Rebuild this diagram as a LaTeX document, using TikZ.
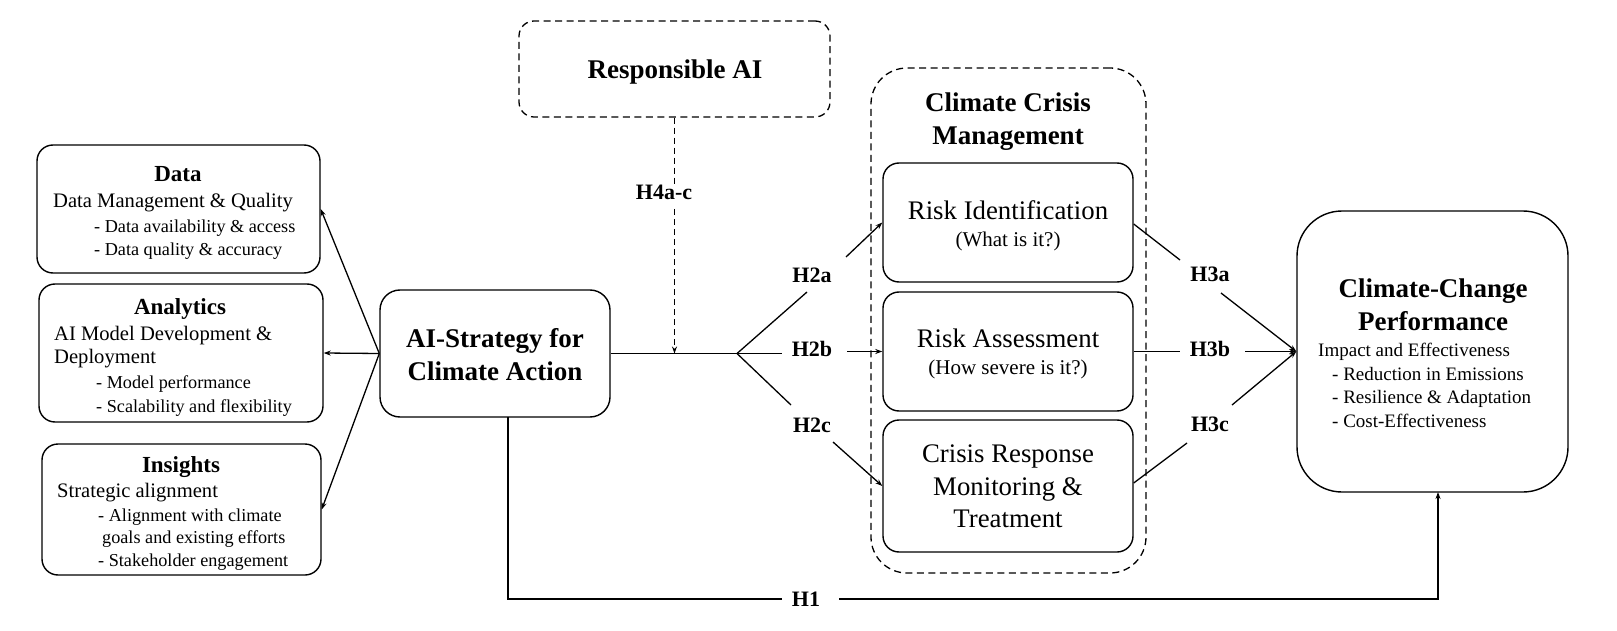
\documentclass[tikz,border=0pt]{standalone}
\usepackage{fontspec}
\setmainfont{Liberation Serif}[Ligatures=TeX]
\newfontfamily\tnr{Liberation Serif}
\usetikzlibrary{arrows.meta}
\begin{document}
\begin{tikzpicture}[x=1pt,y=-1pt,
  box/.style={draw, line width=1.4pt, rounded corners=16pt, inner sep=0pt, fill=white},
  dashbox/.style={draw, line width=1.3pt, inner sep=0pt, dash pattern=on 7pt off 4.5pt},
  ln/.style={line width=1.3pt},
  arr/.style={line width=1.3pt, -{Stealth[length=7pt,width=5pt]}},
  darr/.style={line width=1.3pt, dash pattern=on 6pt off 4pt, -{Stealth[length=7pt,width=5pt]}},
  ttl/.style={font=\tnr\fontsize{23}{27}\selectfont\bfseries, anchor=base, inner sep=0pt},
  big/.style={font=\tnr\fontsize{27}{32}\selectfont\bfseries, anchor=base, inner sep=0pt},
  body/.style={font=\tnr\fontsize{20.6}{24}\selectfont, anchor=base west, inner sep=0pt},
  item/.style={font=\tnr\fontsize{18.2}{22}\selectfont, anchor=base west, inner sep=0pt},
  mid/.style={font=\tnr\fontsize{26.8}{30}\selectfont, anchor=base, inner sep=0pt},
  sub/.style={font=\tnr\fontsize{21}{25}\selectfont, anchor=base, inner sep=0pt},
  pbody/.style={font=\tnr\fontsize{19}{23}\selectfont, anchor=base west, inner sep=0pt},
  hlab/.style={font=\tnr\fontsize{22}{26}\selectfont\bfseries, anchor=base, inner sep=0pt}
]
\useasboundingbox (0,0) rectangle (1617,631);

% containers and boxes
\node[dashbox, rounded corners=36pt, minimum width=275pt, minimum height=505pt] (ccm) at (1008.5,320.5) {};
\node[dashbox, rounded corners=15pt, minimum width=311pt, minimum height=96pt] (resp) at (674.5,69) {};
\node[box, minimum width=283pt, minimum height=128pt] (data) at (178.5,209) {};
\node[box, minimum width=284pt, minimum height=138pt] (anal) at (181,353) {};
\node[box, minimum width=279pt, minimum height=131pt] (ins) at (181.5,509.5) {};
\node[box, rounded corners=20pt, minimum width=230pt, minimum height=127pt] (ai) at (495,353.5) {};
\node[box, minimum width=250pt, minimum height=119pt] (rid) at (1008,222.5) {};
\node[box, minimum width=250pt, minimum height=119pt] (ras) at (1008,351.5) {};
\node[box, minimum width=250pt, minimum height=132pt] (crr) at (1008,486) {};
\node[box, rounded corners=45pt, minimum width=271pt, minimum height=281pt] (perf) at (1432.5,351.5) {};

% left box texts
\node[ttl] (tdata) at (178,182) {Data};
\node[body] (tdata1) at (53,208) {Data Management \& Quality};
\node[item] (tdata2) at (94,233) {- Data availability \& access};
\node[item] (tdata3) at (94,255) {- Data quality \& accuracy};

\node[ttl] (tanal) at (180,314) {Analytics};
\node[body] (tanal1) at (54,340) {AI Model Development \&};
\node[body] (tanal2) at (54,363) {Deployment};
\node[item] (tanal3) at (96,388) {- Model performance};
\node[item] (tanal4) at (96,412) {- Scalability and flexibility};

\node[ttl] (tins) at (181,472) {Insights};
\node[body] (tins1) at (57,497) {Strategic alignment};
\node[item] (tins2) at (98,521) {- Alignment with climate};
\node[item] (tins3) at (102,543) {goals and existing efforts};
\node[item] (tins4) at (98,566) {- Stakeholder engagement};

% AI strategy and responsible AI
\node[big] (tai1) at (495,347) {AI-Strategy for};
\node[big] (tai2) at (495,380) {Climate Action};
\node[big] (tresp) at (675,79) {Responsible AI};

% climate crisis management
\node[big] (tccm1) at (1008,112) {Climate Crisis};
\node[big] (tccm2) at (1008,145) {Management};
\node[mid] (trid1) at (1008,219) {Risk Identification};
\node[sub] (trid2) at (1008,247) {(What is it?)};
\node[mid] (tras1) at (1008,347) {Risk Assessment};
\node[sub] (tras2) at (1008,374) {(How severe is it?)};
\node[mid] (tcrr1) at (1008,462) {Crisis Response};
\node[mid] (tcrr2) at (1008,495) {Monitoring \&};
\node[mid] (tcrr3) at (1008,527) {Treatment};

% performance
\node[big] (tperf1) at (1433,297) {Climate-Change};
\node[big] (tperf2) at (1433,330) {Performance};
\node[pbody] (tperf3) at (1318,356) {Impact and Effectiveness};
\node[pbody] (tperf4) at (1332,380) {- Reduction in Emissions};
\node[pbody] (tperf5) at (1332,403) {- Resilience \& Adaptation};
\node[pbody] (tperf6) at (1332,427) {- Cost-Effectiveness};

% hypothesis labels
\node[hlab] (h4) at (664,200) {H4a-c};
\node[hlab] (h2a) at (812,282) {H2a};
\node[hlab] (h2b) at (812,356) {H2b};
\node[hlab] (h2c) at (812,432) {H2c};
\node[hlab] (h3a) at (1210,281) {H3a};
\node[hlab] (h3b) at (1210,356) {H3b};
\node[hlab] (h3c) at (1210,431) {H3c};
\node[hlab] (h1) at (806,606) {H1};

% free ends
\coordinate (br) at (737,353.5);
\coordinate (a1) at (807,292);
\coordinate (a2) at (846,257);
\coordinate (b1) at (782,353.5);
\coordinate (b2) at (847,351.5);
\coordinate (c1) at (791,405);
\coordinate (c2) at (833,442);
\coordinate (d1) at (1180,260);
\coordinate (d2) at (1221,293);
\coordinate (e1) at (1180,351.5);
\coordinate (e2) at (1245,351.5);
\coordinate (f1) at (1187,443);
\coordinate (f2) at (1232,405);
\coordinate (g0) at (508,417);
\coordinate (g1) at (782,599);
\coordinate (g2) at (839,599);
\coordinate (g3) at (1438,492);
\coordinate (r1) at (674.5,186);
\coordinate (r2) at (674.5,209);
\coordinate (r3) at (674.5,353.5);

% left arrows
\draw[arr] (ai.west) -- (data.east);
\draw[arr] (ai.west) -- (anal.east);
\draw[arr] (ai.west) -- (ins.east);

% main line and moderator
\draw[ln] (ai.east) -- (br);
\draw[ln, dash pattern=on 6pt off 4pt] (resp.south) -- (r1);
\draw[darr] (r2) -- (r3);

% H2 paths
\draw[ln] (br) -- (a1);
\draw[arr] (a2) -- (rid.west);
\draw[ln] (br) -- (b1);
\draw[arr] (b2) -- (ras.west);
\draw[ln] (br) -- (c1);
\draw[arr] (c2) -- (crr.west);

% H3 paths
\draw[ln] ([yshift=-1.5pt]rid.east) -- (d1);
\draw[arr] (d2) -- (perf.west);
\draw[ln] (ras.east) -- (e1);
\draw[arr] (e2) -- (perf.west);
\draw[ln] ([yshift=3pt]crr.east) -- (f1);
\draw[arr] (f2) -- (perf.west);

% H1 path
\draw[ln] (g0) |- (g1);
\draw[arr] (g2) -| (g3);
\end{tikzpicture}
\end{document}
